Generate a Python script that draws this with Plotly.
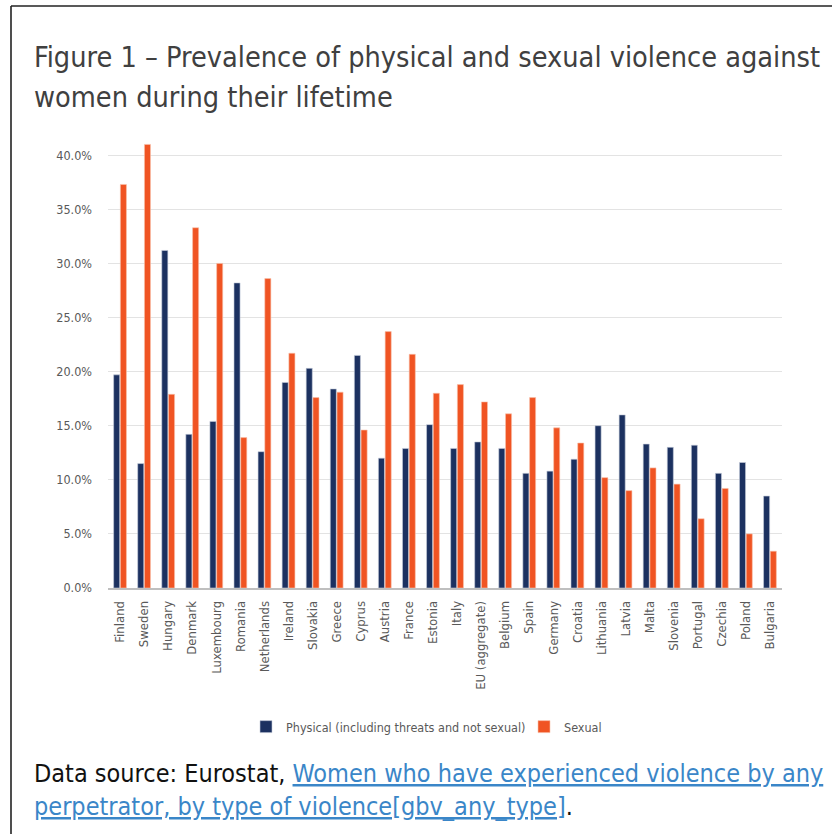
import plotly.graph_objects as go

countries = ["Finland", "Sweden", "Hungary", "Denmark", "Luxembourg", "Romania",
             "Netherlands", "Ireland", "Slovakia", "Greece", "Cyprus", "Austria",
             "France", "Estonia", "Italy", "EU (aggregate)", "Belgium", "Spain",
             "Germany", "Croatia", "Lithuania", "Latvia", "Malta", "Slovenia",
             "Portugal", "Czechia", "Poland", "Bulgaria"]
physical = [19.7, 11.5, 31.2, 14.2, 15.4, 28.2, 12.6, 19.0, 20.3, 18.4, 21.5, 12.0,
            12.9, 15.1, 12.9, 13.5, 12.9, 10.6, 10.8, 11.9, 15.0, 16.0, 13.3, 13.0,
            13.2, 10.6, 11.6, 8.5]
sexual = [37.3, 41.0, 17.9, 33.3, 30.0, 13.9, 28.6, 21.7, 17.6, 18.1, 14.6, 23.7,
          21.6, 18.0, 18.8, 17.2, 16.1, 17.6, 14.8, 13.4, 10.2, 9.0, 11.1, 9.6,
          6.4, 9.2, 5.0, 3.4]
ytick_vals = [0, 5, 10, 15, 20, 25, 30, 35, 40]
ytick_text = ["0.0%", "5.0%", "10.0%", "15.0%", "20.0%", "25.0%", "30.0%", "35.0%", "40.0%"]
series_names = ["Physical (including threats and not sexual)", "Sexual"]

W, H = 832, 834
L, R, T, B = 108, 50, 139, 246
PW, PH = W - L - R, H - T - B
FONT = "DejaVu Sans Condensed, sans-serif"

def xp(px):
    return (px - L) / PW

def yp(py):
    return (H - B - py) / PH

fig = go.Figure()
fig.add_trace(go.Bar(x=countries, y=physical, name=series_names[0],
                     marker=dict(color="#1c3160", line=dict(color="#c8cfdc", width=0.6))))
fig.add_trace(go.Bar(x=countries, y=sexual, name=series_names[1],
                     marker=dict(color="#f05423", line=dict(color="#f9c2ad", width=0.6))))

fig.update_layout(
    width=W, height=H,
    margin=dict(l=L, r=R, t=T, b=B, autoexpand=False),
    paper_bgcolor="white", plot_bgcolor="white",
    barmode="group", bargap=0.44, bargroupgap=0.1,
    font=dict(family=FONT, color="#595959"),
    showlegend=True,
    legend=dict(orientation="h", x=xp(524), xanchor="center", y=yp(727), yanchor="middle",
                font=dict(family=FONT, size=12.5, color="#595959"), itemwidth=30, entrywidth=233),
    xaxis=dict(tickangle=-90, tickfont=dict(family=FONT, size=13, color="#595959"),
               showline=True, linecolor="#bfbfbf", linewidth=1.5,
               ticks="", ticklabelstandoff=6),
    yaxis=dict(range=[0, 41.5], tickvals=ytick_vals, ticktext=ytick_text,
               tickfont=dict(family=FONT, size=12.5, color="#595959"),
               showgrid=True, gridcolor="#e3e3e3", gridwidth=1,
               zeroline=False, ticklabelstandoff=15),
)

ann = []
ann.append(dict(text="Figure 1 – Prevalence of physical and sexual violence against",
                x=xp(32), y=yp(57), xanchor="left", yanchor="middle",
                font=dict(family=FONT, size=28.6, color="#404040")))
ann.append(dict(text="women during their lifetime",
                x=xp(32), y=yp(97), xanchor="left", yanchor="middle",
                font=dict(family=FONT, size=28.6, color="#404040")))
ann.append(dict(text="Data source: Eurostat, <span style='color:#3a86c8'><u>Women who have experienced violence by any</u></span>",
                x=xp(32), y=yp(773), xanchor="left", yanchor="middle",
                font=dict(family=FONT, size=25, color="#111111")))
ann.append(dict(text="<span style='color:#3a86c8'><u>perpetrator, by type of violence[gbv_any_type]</u></span>.",
                x=xp(32), y=yp(806), xanchor="left", yanchor="middle",
                font=dict(family=FONT, size=25, color="#111111")))
for a in ann:
    a.update(xref="paper", yref="paper", showarrow=False)
fig.update_layout(annotations=ann)

fig.update_layout(shapes=[
    dict(type="line", xref="paper", yref="paper", x0=xp(11), x1=xp(11), y0=yp(6), y1=yp(840),
         line=dict(color="#222222", width=1.6)),
    dict(type="line", xref="paper", yref="paper", x0=xp(11), x1=xp(840), y0=yp(6), y1=yp(6),
         line=dict(color="#222222", width=1.6)),
])

fig.write_html("out.html")
